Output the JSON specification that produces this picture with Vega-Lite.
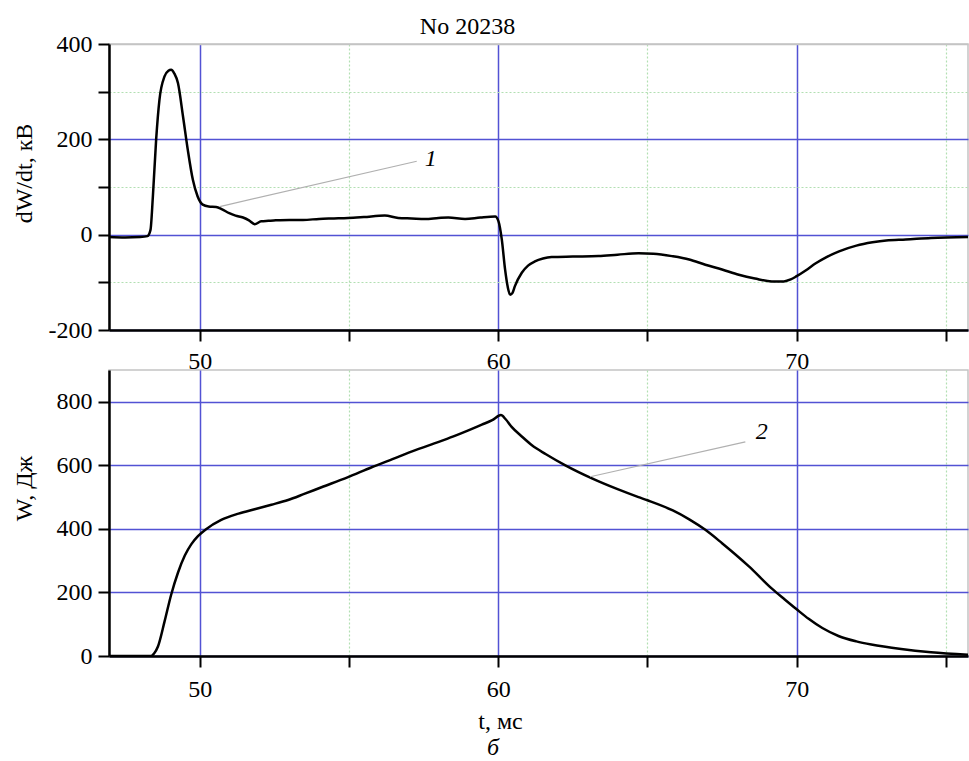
{
  "$schema": "https://vega.github.io/schema/vega-lite/v6.json",
  "padding": {"left": 11, "top": 14, "right": 0, "bottom": 0},
  "background": "white",
  "spacing": 40,
  "bounds": "flush",
  "config": {
    "font": "Liberation Serif",
    "view": {"stroke": "#c4c4c4", "strokeWidth": 1.5},
    "axis": {
      "domainColor": "black",
      "domainWidth": 2.5,
      "tickColor": "black",
      "tickWidth": 2,
      "tickSize": 11,
      "labelFont": "Liberation Serif",
      "labelFontSize": 24,
      "labelColor": "black",
      "labelFlush": false,
      "labelOverlap": false,
      "titleFont": "Liberation Serif",
      "titleFontSize": 24,
      "titleFontWeight": "normal",
      "titleColor": "black"
    }
  },
  "title": {"text": "б", "orient": "bottom", "anchor": "middle", "fontStyle": "italic", "fontSize": 24, "fontWeight": "normal", "font": "Liberation Serif", "color": "black", "offset": 2, "dx": 3},
  "vconcat": [
    {
      "width": 859,
      "height": 286,
      "title": {"text": "No 20238", "fontSize": 24, "fontWeight": "normal", "font": "Liberation Serif", "color": "black", "dx": -71, "offset": -7},
      "layer": [
        {
          "data": {"name": "dw"},
          "mark": {"type": "line", "color": "black", "strokeWidth": 2.5, "clip": true, "interpolate": "monotone"},
          "encoding": {
            "x": {"field": "t", "type": "quantitative", "scale": {"domain": [46.96, 75.74], "nice": false, "zero": false},
              "axis": {
                "title": null,
                "values": [50, 55, 60, 65, 70, 75],
                "labelExpr": "datum.value % 10 === 0 ? '' + datum.value : ''",
                "labelPadding": 8,
                "grid": true,
                "gridColor": {"condition": {"test": "datum.value % 10 === 0", "value": "#5252d4"}, "value": "#b2dfb2"},
                "gridDash": {"condition": {"test": "datum.value % 10 === 0", "value": []}, "value": [2, 2]},
                "gridWidth": {"condition": {"test": "datum.value % 10 === 0", "value": 1.5}, "value": 1.2}
              }},
            "y": {"field": "v", "type": "quantitative", "scale": {"domain": [-200, 400], "nice": false, "zero": false},
              "axis": {
                "title": "dW/dt, кВ",
                "titleX": -85, "titleY": 129, "titleAngle": -90, "titleAlign": "center", "titleBaseline": "middle",
                "values": [-200, -100, 0, 100, 200, 300, 400],
                "labelExpr": "datum.value % 200 === 0 ? '' + datum.value : ''",
                "labelPadding": 6,
                "grid": true,
                "gridColor": {"condition": [{"test": "datum.value >= 400", "value": "#c4c4c4"}, {"test": "datum.value % 200 === 0", "value": "#5252d4"}], "value": "#b2dfb2"},
                "gridDash": {"condition": {"test": "datum.value % 200 === 0", "value": []}, "value": [2, 2]},
                "gridWidth": {"condition": {"test": "datum.value % 200 === 0", "value": 1.5}, "value": 1.2}
              }}
          }
        },
        {
          "data": {"name": "ann1"},
          "mark": {"type": "line", "color": "#b0b0b0", "strokeWidth": 1.2},
          "encoding": {
            "x": {"field": "t", "type": "quantitative"},
            "y": {"field": "v", "type": "quantitative", "title": "dW/dt, кВ"}
          }
        },
        {
          "data": {"name": "lab1"},
          "mark": {"type": "text", "fontStyle": "italic", "fontSize": 24, "font": "Liberation Serif", "color": "black", "align": "center", "baseline": "middle"},
          "encoding": {
            "x": {"field": "t", "type": "quantitative"},
            "y": {"field": "v", "type": "quantitative", "title": "dW/dt, кВ"},
            "text": {"field": "label"}
          }
        }
      ]
    },
    {
      "width": 859,
      "height": 286,
      "layer": [
        {
          "data": {"name": "w"},
          "mark": {"type": "line", "color": "black", "strokeWidth": 2.5, "clip": true, "interpolate": "monotone"},
          "encoding": {
            "x": {"field": "t", "type": "quantitative", "scale": {"domain": [46.96, 75.74], "nice": false, "zero": false},
              "axis": {
                "title": "t, мс",
                "titleX": 391, "titleY": 72, "titleAlign": "center", "titleBaseline": "alphabetic", "titleAngle": 0,
                "values": [50, 55, 60, 65, 70, 75],
                "labelExpr": "datum.value % 10 === 0 ? '' + datum.value : ''",
                "labelPadding": 10,
                "grid": true,
                "gridColor": {"condition": {"test": "datum.value % 10 === 0", "value": "#5252d4"}, "value": "#b2dfb2"},
                "gridDash": {"condition": {"test": "datum.value % 10 === 0", "value": []}, "value": [2, 2]},
                "gridWidth": {"condition": {"test": "datum.value % 10 === 0", "value": 1.5}, "value": 1.2}
              }},
            "y": {"field": "v", "type": "quantitative", "scale": {"domain": [0, 900], "nice": false, "zero": false},
              "axis": {
                "title": "W, Дж",
                "titleX": -85, "titleY": 118, "titleAngle": -90, "titleAlign": "center", "titleBaseline": "middle",
                "values": [0, 100, 200, 300, 400, 500, 600, 700, 800, 900],
                "labelExpr": "datum.value % 200 === 0 ? '' + datum.value : ''",
                "labelPadding": 6,
                "grid": true,
                "gridColor": {"condition": [{"test": "datum.value >= 900", "value": "#c4c4c4"}, {"test": "datum.value % 200 === 0", "value": "#5252d4"}], "value": "#b2dfb2"},
                "gridDash": {"condition": {"test": "datum.value % 200 === 0 || datum.value >= 900", "value": []}, "value": [2, 2]},
                "gridWidth": {"condition": {"test": "datum.value % 200 === 0", "value": 1.5}, "value": 1.2}
              }}
          }
        },
        {
          "data": {"name": "ann2"},
          "mark": {"type": "line", "color": "#b0b0b0", "strokeWidth": 1.2},
          "encoding": {
            "x": {"field": "t", "type": "quantitative", "title": "t, мс"},
            "y": {"field": "v", "type": "quantitative", "title": "W, Дж"}
          }
        },
        {
          "data": {"name": "lab2"},
          "mark": {"type": "text", "fontStyle": "italic", "fontSize": 24, "font": "Liberation Serif", "color": "black", "align": "center", "baseline": "middle"},
          "encoding": {
            "x": {"field": "t", "type": "quantitative", "title": "t, мс"},
            "y": {"field": "v", "type": "quantitative", "title": "W, Дж"},
            "text": {"field": "label"}
          }
        }
      ]
    }
  ],
  "datasets": {
    "ann1": [{"t": 50.67, "v": 59}, {"t": 57.27, "v": 154}],
    "lab1": [{"t": 57.74, "v": 159, "label": "1"}],
    "ann2": [{"t": 63.08, "v": 564}, {"t": 68.28, "v": 674}],
    "lab2": [{"t": 68.83, "v": 705, "label": "2"}],
    "dw": [
      {"t": 46.96, "v": -5}, {"t": 47.5, "v": -6}, {"t": 48.0, "v": -5}, {"t": 48.25, "v": -3},
      {"t": 48.35, "v": 10}, {"t": 48.43, "v": 80}, {"t": 48.54, "v": 200}, {"t": 48.65, "v": 283},
      {"t": 48.82, "v": 332}, {"t": 48.95, "v": 344}, {"t": 49.04, "v": 346}, {"t": 49.15, "v": 338},
      {"t": 49.27, "v": 318}, {"t": 49.44, "v": 248}, {"t": 49.6, "v": 178}, {"t": 49.77, "v": 115},
      {"t": 49.93, "v": 80}, {"t": 50.1, "v": 63}, {"t": 50.3, "v": 59}, {"t": 50.55, "v": 58},
      {"t": 50.75, "v": 53}, {"t": 50.99, "v": 45}, {"t": 51.2, "v": 40}, {"t": 51.45, "v": 36},
      {"t": 51.65, "v": 30}, {"t": 51.84, "v": 22}, {"t": 52.06, "v": 28}, {"t": 52.3, "v": 29},
      {"t": 52.55, "v": 30}, {"t": 53.0, "v": 31}, {"t": 53.46, "v": 31}, {"t": 54.0, "v": 33},
      {"t": 54.5, "v": 34}, {"t": 54.97, "v": 35}, {"t": 55.5, "v": 37}, {"t": 56.2, "v": 40},
      {"t": 56.65, "v": 35}, {"t": 57.1, "v": 34}, {"t": 57.55, "v": 33}, {"t": 58.0, "v": 35},
      {"t": 58.33, "v": 36}, {"t": 58.89, "v": 33}, {"t": 59.4, "v": 36}, {"t": 59.9, "v": 38},
      {"t": 60.01, "v": 28}, {"t": 60.12, "v": -10}, {"t": 60.23, "v": -73}, {"t": 60.32, "v": -110},
      {"t": 60.4, "v": -126}, {"t": 60.48, "v": -122}, {"t": 60.56, "v": -108}, {"t": 60.79, "v": -80},
      {"t": 61.0, "v": -65}, {"t": 61.23, "v": -56}, {"t": 61.5, "v": -50}, {"t": 61.79, "v": -47},
      {"t": 62.5, "v": -46}, {"t": 63.36, "v": -45}, {"t": 64.0, "v": -42}, {"t": 64.7, "v": -39},
      {"t": 65.2, "v": -40}, {"t": 65.82, "v": -45}, {"t": 66.4, "v": -52}, {"t": 66.94, "v": -63},
      {"t": 67.5, "v": -73}, {"t": 68.06, "v": -84}, {"t": 68.6, "v": -92}, {"t": 69.17, "v": -98},
      {"t": 69.57, "v": -98}, {"t": 69.8, "v": -94}, {"t": 70.0, "v": -87}, {"t": 70.3, "v": -75},
      {"t": 70.64, "v": -60}, {"t": 71.0, "v": -47}, {"t": 71.42, "v": -35}, {"t": 72.0, "v": -23},
      {"t": 72.54, "v": -16}, {"t": 73.0, "v": -12}, {"t": 73.66, "v": -10}, {"t": 74.5, "v": -7},
      {"t": 75.74, "v": -5}
    ],
    "w": [
      {"t": 46.96, "v": 0}, {"t": 48.0, "v": 0}, {"t": 48.37, "v": 0}, {"t": 48.47, "v": 8},
      {"t": 48.6, "v": 30}, {"t": 48.82, "v": 108}, {"t": 49.04, "v": 192}, {"t": 49.27, "v": 262},
      {"t": 49.5, "v": 316}, {"t": 49.72, "v": 352}, {"t": 49.94, "v": 377}, {"t": 50.2, "v": 398},
      {"t": 50.72, "v": 428}, {"t": 51.3, "v": 448}, {"t": 51.84, "v": 462}, {"t": 52.4, "v": 476},
      {"t": 52.96, "v": 491}, {"t": 53.5, "v": 510}, {"t": 54.08, "v": 531}, {"t": 54.95, "v": 562},
      {"t": 55.76, "v": 594}, {"t": 56.5, "v": 621}, {"t": 57.0, "v": 640}, {"t": 57.77, "v": 666},
      {"t": 58.5, "v": 691}, {"t": 59.0, "v": 710}, {"t": 59.45, "v": 728}, {"t": 59.8, "v": 742},
      {"t": 60.09, "v": 758}, {"t": 60.25, "v": 745}, {"t": 60.45, "v": 721}, {"t": 60.8, "v": 690},
      {"t": 61.13, "v": 663}, {"t": 61.6, "v": 635}, {"t": 62.25, "v": 600}, {"t": 63.14, "v": 559},
      {"t": 64.0, "v": 525}, {"t": 64.7, "v": 500}, {"t": 65.0, "v": 490}, {"t": 65.85, "v": 458},
      {"t": 66.4, "v": 430}, {"t": 66.94, "v": 397}, {"t": 67.5, "v": 355}, {"t": 68.4, "v": 282},
      {"t": 69.17, "v": 212}, {"t": 69.6, "v": 178}, {"t": 70.0, "v": 147}, {"t": 70.4, "v": 117},
      {"t": 70.86, "v": 88}, {"t": 71.4, "v": 63}, {"t": 72.0, "v": 46}, {"t": 72.5, "v": 36},
      {"t": 73.5, "v": 22}, {"t": 74.5, "v": 12}, {"t": 75.74, "v": 4}
    ]
  }
}
